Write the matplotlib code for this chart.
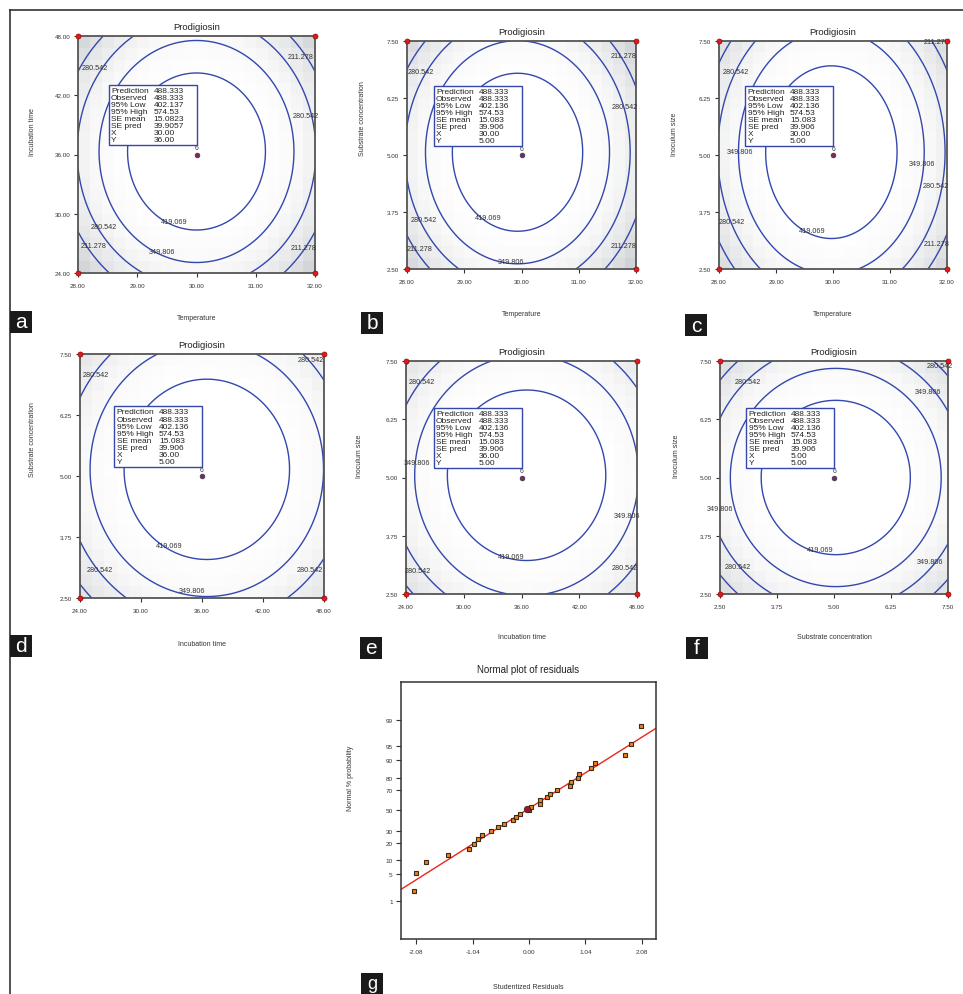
import numpy as np
import matplotlib
matplotlib.use('Agg')
import matplotlib.pyplot as plt
from matplotlib.patches import Rectangle
from matplotlib.lines import Line2D
from matplotlib.colors import LinearSegmentedColormap
from statistics import NormalDist

plt.rcParams['font.family'] = ['Liberation Sans', 'DejaVu Sans']

# ---------------- data ----------------
title_text = 'Prodigiosin'
panel_letters = ['a', 'b', 'c', 'd', 'e', 'f']
x_names = ['Temperature', 'Temperature', 'Temperature',
           'Incubation time', 'Incubation time', 'Substrate concentration']
y_names = ['Incubation time', 'Substrate concentration', 'Inoculum size',
           'Substrate concentration', 'Inoculum size', 'Inoculum size']
x_lo = [28, 28, 28, 24, 24, 2.5]
x_hi = [32, 32, 32, 48, 48, 7.5]
y_lo = [24, 2.5, 2.5, 2.5, 2.5, 2.5]
y_hi = [48, 7.5, 7.5, 7.5, 7.5, 7.5]

# quadratic response-surface coefficients (coded units -1..1)
b0 = [488.333, 488.333, 488.333, 488.333, 488.333, 488.333]
b1 = [0, -15, -6, 12, 13, 5]
b2 = [8, 7, 6, 14, 5, 0]
b11 = [-205, -215, -209, -152, -148, -162]
b22 = [-158, -145, -121, -128, -130, -158]
b12 = [0, 0, 0, 0, 0, 0]
contour_levels = [211.278, 280.542, 349.806, 419.069]

# contour label positions (level, x, y) in data units
labels_a = [(211.278, 31.75, 45.9), (280.542, 28.28, 44.8), (280.542, 31.84, 40.0),
            (419.069, 29.62, 29.2), (280.542, 28.43, 28.7), (211.278, 28.27, 26.8),
            (349.806, 29.42, 26.2), (211.278, 31.80, 26.6)]
labels_b = [(211.278, 31.79, 7.19), (280.542, 28.24, 6.83), (280.542, 31.80, 6.06),
            (280.542, 28.30, 3.58), (419.069, 29.41, 3.62), (211.278, 28.22, 2.94),
            (349.806, 29.81, 2.66), (211.278, 31.79, 3.02)]
labels_c = [(211.278, 31.82, 7.48), (280.542, 28.29, 6.83), (349.806, 28.36, 5.08),
            (349.806, 31.56, 4.82), (280.542, 31.80, 4.33), (280.542, 28.22, 3.54),
            (419.069, 29.63, 3.34), (211.278, 31.82, 3.07)]
labels_d = [(280.542, 25.54, 7.07), (280.542, 46.75, 7.38), (419.069, 32.74, 3.57),
            (280.542, 25.97, 3.08), (280.542, 46.58, 3.08), (349.806, 34.97, 2.66)]
labels_e = [(280.542, 25.63, 7.07), (349.806, 25.10, 5.32), (349.806, 46.97, 4.18),
            (419.069, 34.90, 3.30), (280.542, 25.27, 3.00), (280.542, 46.78, 3.07)]
labels_f = [(280.542, 3.12, 7.07), (280.542, 7.33, 7.40), (349.806, 7.06, 6.84),
            (349.806, 2.50, 4.33), (419.069, 4.70, 3.45), (280.542, 2.90, 3.08),
            (349.806, 7.11, 3.19)]
contour_labels = [labels_a, labels_b, labels_c, labels_d, labels_e, labels_f]

# design points (coded) and center replicate count
design_x = [-1, 1, -1, 1]
design_y = [-1, -1, 1, 1]
center_runs = '6'

info_rows = ['Prediction', 'Observed', '95% Low', '95% High', 'SE mean', 'SE pred', 'X', 'Y']
info_a = ['488.333', '488.333', '402.137', '574.53', '15.0823', '39.9057', '30.00', '36.00']
info_b = ['488.333', '488.333', '402.136', '574.53', '15.083', '39.906', '30.00', '5.00']
info_c = ['488.333', '488.333', '402.136', '574.53', '15.083', '39.906', '30.00', '5.00']
info_d = ['488.333', '488.333', '402.136', '574.53', '15.083', '39.906', '36.00', '5.00']
info_e = ['488.333', '488.333', '402.136', '574.53', '15.083', '39.906', '36.00', '5.00']
info_f = ['488.333', '488.333', '402.136', '574.53', '15.083', '39.906', '5.00', '5.00']
info_values = [info_a, info_b, info_c, info_d, info_e, info_f]

# normal plot of residuals
resid = [-2.12, -2.09, -1.90, -1.50, -1.10, -1.01, -0.95, -0.86, -0.70, -0.57,
         -0.47, -0.29, -0.24, -0.16, -0.01, 0.03, 0.21, 0.21, 0.33, 0.39,
         0.52, 0.75, 0.78, 0.90, 0.92, 1.15, 1.21, 1.77, 1.87, 2.06]
prob = [1.85, 5.4, 9.0, 12.5, 16.0, 19.5, 22.8, 26.3, 29.7, 33.1,
        36.6, 39.8, 43.2, 46.6, 50.0, 53.4, 56.8, 60.2, 63.4, 66.6,
        69.7, 73.2, 76.4, 79.5, 82.7, 86.0, 89.0, 92.3, 95.5, 98.5]
sel_resid = [-0.03]
sel_prob = [51.7]
fit_x = [-2.36, 2.34]
fit_prob = [2.1, 98.26]
g_xticks = [-2.08, -1.04, 0.00, 1.04, 2.08]
g_yticks = [1, 5, 10, 20, 30, 50, 70, 80, 90, 95, 99]

# ---------------- layout (pixels) ----------------
W, H = 963, 995
fig = plt.figure(figsize=(W / 100, H / 100), dpi=100)

def fx(x):
    return x / W

def fy(y):
    return 1 - y / H

boxes = [(78, 37, 315, 274), (407, 42, 636, 270), (719, 42, 947, 270),
         (80, 355, 324, 599), (406, 362, 637, 595), (720, 362, 948, 595)]
xlabel_y = [319, 314, 314, 645, 638, 638]
ylabel_x = [32, 362, 674, 33, 359, 676]
letter_boxes = [(10, 312), (361, 313), (685, 315), (10, 636), (360, 638), (686, 638)]

cmap = LinearSegmentedColormap.from_list('g', ['#cdd0d3', '#e6e7e9', '#f8f8f8', '#ffffff'])
line_col = '#3447ad'
txt_col = '#333333'

for i in range(6):
    x0, y0, x1, y1 = boxes[i]
    ax = fig.add_axes([fx(x0), fy(y1), fx(x1 - x0), (y1 - y0) / H])
    xl, xh, yl, yh = x_lo[i], x_hi[i], y_lo[i], y_hi[i]

    def model(X, Y, i=i):
        cx = (X - (xl + xh) / 2) / ((xh - xl) / 2)
        cy = (Y - (yl + yh) / 2) / ((yh - yl) / 2)
        return (b0[i] + b1[i] * cx + b2[i] * cy + b11[i] * cx ** 2
                + b22[i] * cy ** 2 + b12[i] * cx * cy)

    # coarse shaded background
    xe = np.linspace(xl, xh, 21)
    ye = np.linspace(yl, yh, 21)
    xc = (xe[:-1] + xe[1:]) / 2
    yc = (ye[:-1] + ye[1:]) / 2
    XC, YC = np.meshgrid(xc, yc)
    ax.pcolormesh(xe, ye, model(XC, YC), cmap=cmap, vmin=130, vmax=430,
                  shading='flat', zorder=0)
    # contours
    xf = np.linspace(xl, xh, 300)
    yf = np.linspace(yl, yh, 300)
    XF, YF = np.meshgrid(xf, yf)
    ax.contour(XF, YF, model(XF, YF), levels=contour_levels, colors=line_col,
               linewidths=1.0, zorder=2)
    for lvl, lx, ly in contour_labels[i]:
        ax.text(lx, ly, f'{lvl:.3f}', fontsize=5.2, color=txt_col,
                ha='center', va='center', zorder=3)

    ax.set_xlim(xl, xh)
    ax.set_ylim(yl, yh)
    xt = np.linspace(xl, xh, 5)
    yt = np.linspace(yl, yh, 5)
    ax.set_xticks(xt)
    ax.set_xticklabels([f'{v:.2f}' for v in xt])
    ax.set_yticks(yt)
    ax.set_yticklabels([f'{v:.2f}' for v in yt])
    ax.tick_params(axis='both', length=3, width=0.8, labelsize=4.5,
                   colors=txt_col)
    ax.tick_params(axis='x', pad=4.5)
    ax.tick_params(axis='y', pad=2.5)
    for s in ax.spines.values():
        s.set_color('#555555')
        s.set_linewidth(1.3)
    ax.set_title(title_text, fontsize=6.8, color='#222222', pad=5)

    # design points
    dx = [xl + (v + 1) / 2 * (xh - xl) for v in design_x]
    dy = [yl + (v + 1) / 2 * (yh - yl) for v in design_y]
    ax.plot(dx, dy, 'o', ms=3.6, mfc='#e3191c', mec='#8a0a0a', mew=0.5,
            clip_on=False, zorder=6)
    cxv, cyv = (xl + xh) / 2, (yl + yh) / 2
    ax.plot([cxv], [cyv], 'o', ms=3.4, mfc='#7a2c5c', mec='#333355', mew=0.5,
            zorder=6)
    ax.annotate(center_runs, (cxv, cyv), xytext=(0, 2.5), textcoords='offset points',
                ha='center', va='bottom', fontsize=4.8, color=txt_col, zorder=6)

    # info box (pixels)
    pcx, pcy = (x0 + x1) / 2, (y0 + y1) / 2
    bw, bh = 88, 60
    bx0, by1 = pcx - bw, pcy - 9.5
    by0 = by1 - bh
    fig.add_artist(Rectangle((fx(bx0), fy(by1)), bw / W, bh / H,
                             transform=fig.transFigure, facecolor='white',
                             edgecolor=line_col, linewidth=1.0, zorder=5))
    for r, (nm, val) in enumerate(zip(info_rows, info_values[i])):
        ty = by0 + 2 + r * 7.05
        fig.text(fx(bx0 + 2.5), fy(ty), nm, fontsize=6, color='#222222',
                 ha='left', va='top', zorder=6)
        fig.text(fx(bx0 + 45), fy(ty), val, fontsize=6, color='#222222',
                 ha='left', va='top', zorder=6)

    # axis labels
    fig.text(fx((x0 + x1) / 2), fy(xlabel_y[i]), x_names[i], fontsize=5,
             color=txt_col, ha='center', va='center')
    fig.text(fx(ylabel_x[i]), fy((y0 + y1) / 2), y_names[i], fontsize=5,
             color=txt_col, ha='center', va='bottom', rotation=90)

# ---------------- panel g ----------------
nd = NormalDist()
gx0, gy0, gx1, gy1 = 401, 683, 656, 940
axg = fig.add_axes([fx(gx0), fy(gy1), fx(gx1 - gx0), (gy1 - gy0) / H])
z = [nd.inv_cdf(p / 100) for p in prob]
axg.plot(fit_x, [nd.inv_cdf(p / 100) for p in fit_prob], color='#e8261f', lw=1.0,
         zorder=2)
axg.plot(resid, z, 's', ms=3.4, mfc='#f57f17', mec='#3a2a1a', mew=0.8, zorder=3)
axg.plot(sel_resid, [nd.inv_cdf(p / 100) for p in sel_prob], 'o', ms=4.6,
         mfc='#a3161d', mec='#402020', mew=0.6, zorder=4)
axg.set_xlim(-2.36, 2.34)
axg.set_ylim(-3.31, 3.30)
axg.set_xticks(g_xticks)
axg.set_xticklabels([f'{v:.2f}' for v in g_xticks])
axg.set_yticks([nd.inv_cdf(p / 100) for p in g_yticks])
axg.set_yticklabels([str(p) for p in g_yticks])
axg.tick_params(axis='both', length=3.5, width=0.8, labelsize=4.6, colors=txt_col)
axg.tick_params(axis='x', pad=4)
axg.tick_params(axis='y', pad=2.5)
for s in axg.spines.values():
    s.set_color('#333333')
    s.set_linewidth(1.1)
axg.set_title('Normal plot of residuals', fontsize=7, color='#222222', pad=7)
fig.text(fx((gx0 + gx1) / 2), fy(988), 'Studentized Residuals', fontsize=5,
         color=txt_col, ha='center', va='center')
fig.text(fx(350), fy((gy0 + gy1) / 2), 'Normal % probability', fontsize=5,
         color=txt_col, ha='center', va='bottom', rotation=90)

# ---------------- panel letters ----------------
all_letters = panel_letters + ['g']
all_boxes = letter_boxes + [(361, 974)]
for let, (lx, ly) in zip(all_letters, all_boxes):
    size = 15 if let != 'g' else 13
    fig.add_artist(Rectangle((fx(lx), fy(ly + 22)), 22 / W, 22 / H,
                             transform=fig.transFigure, facecolor='#1a1a1a',
                             edgecolor='none', zorder=7))
    fig.text(fx(lx + 11), fy(ly + 11), let, fontsize=size, color='white',
             ha='center', va='center', zorder=8)

# outer frame lines
fig.add_artist(Line2D([fx(10), fx(963)], [fy(11), fy(11)], color='#222222',
                      lw=1.1, transform=fig.transFigure))
fig.add_artist(Line2D([fx(10), fx(10)], [fy(11), fy(995)], color='#222222',
                      lw=1.1, transform=fig.transFigure))

fig.savefig('out.png', dpi=100)
